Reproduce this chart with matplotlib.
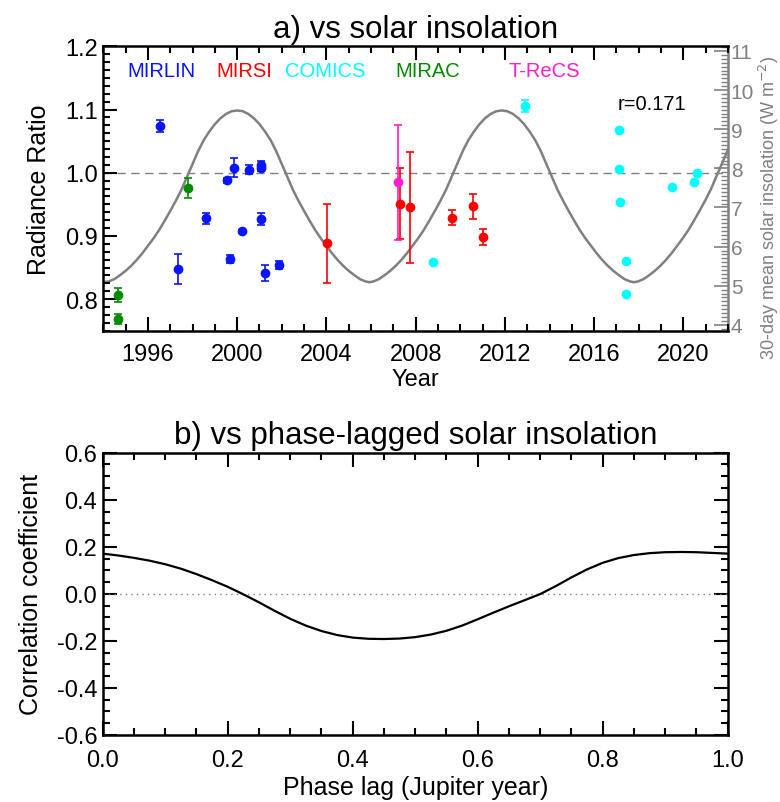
import numpy as np
import matplotlib
matplotlib.use("Agg")
import matplotlib.pyplot as plt
from matplotlib.ticker import MultipleLocator, FuncFormatter

plt.rcParams['font.family'] = ['Liberation Sans', 'DejaVu Sans']

# ---------------- data: panel a ----------------
mirlin_year = [1996.55, 1997.33, 1998.62, 1999.53, 1999.69, 1999.84, 2000.20, 2000.51, 2001.05, 2001.05, 2001.05, 2001.27, 2001.89]
mirlin_val  = [1.074, 0.848, 0.928, 0.988, 0.863, 1.008, 0.907, 1.005, 1.012, 1.007, 0.926, 0.841, 0.854]
mirlin_err  = [0.0095, 0.024, 0.0085, 0.004, 0.006, 0.015, 0.003, 0.007, 0.006, 0.005, 0.0095, 0.013, 0.0056]

mirsi_year = [2004.04, 2007.29, 2007.75, 2009.61, 2010.58, 2011.00]
mirsi_val  = [0.888, 0.951, 0.945, 0.929, 0.947, 0.898]
mirsi_err  = [0.063, 0.0565, 0.088, 0.012, 0.020, 0.013]

comics_year = [2008.76, 2012.89, 2017.10, 2017.10, 2017.16, 2017.42, 2017.42, 2019.47, 2020.48, 2020.63]
comics_val  = [0.859, 1.1056, 1.067, 1.006, 0.954, 0.861, 0.808, 0.978, 0.985, 1.000]
comics_err  = [0.0, 0.010, 0.0, 0.0, 0.0, 0.0, 0.0, 0.0, 0.0, 0.0]

mirac_year = [1994.67, 1994.67, 1997.78]
mirac_val  = [0.806, 0.769, 0.976]
mirac_err  = [0.011, 0.008, 0.016]

trecs_year = [2007.19]
trecs_val  = [0.985]
trecs_err  = [0.091]

ins_year = [1994.00, 1994.25, 1994.50, 1994.75, 1995.00, 1995.25, 1995.50, 1995.75, 1996.00, 1996.25,
            1996.50, 1996.75, 1997.00, 1997.25, 1997.50, 1997.75, 1998.00, 1998.25, 1998.50, 1998.75,
            1999.00, 1999.25, 1999.50, 1999.75, 2000.00, 2000.25, 2000.50, 2000.75, 2001.00, 2001.25,
            2001.50, 2001.75, 2002.00, 2002.25, 2002.50, 2002.75, 2003.00, 2003.25, 2003.50, 2003.75,
            2004.00, 2004.25, 2004.50, 2004.75, 2005.00, 2005.25, 2005.50, 2005.75, 2005.93,
            2006.11, 2006.36, 2006.61, 2006.86, 2007.11, 2007.36, 2007.61, 2007.86, 2008.11, 2008.36,
            2008.61, 2008.86, 2009.11, 2009.36, 2009.61, 2009.86, 2010.11, 2010.36, 2010.61, 2010.86,
            2011.11, 2011.36, 2011.61, 2011.86, 2012.11, 2012.36, 2012.61, 2012.86, 2013.11, 2013.36,
            2013.61, 2013.86, 2014.11, 2014.36, 2014.61, 2014.86, 2015.11, 2015.36, 2015.61, 2015.86,
            2016.11, 2016.36, 2016.61, 2016.86, 2017.11, 2017.36, 2017.61, 2017.79,
            2017.97, 2018.22, 2018.47, 2018.72, 2018.97, 2019.22, 2019.47, 2019.72, 2019.97, 2020.22,
            2020.47, 2020.72, 2020.97, 2021.22, 2021.47, 2021.72, 2021.97, 2022.22]
ins_val = [5.09, 5.11, 5.17, 5.27, 5.38, 5.51, 5.66, 5.83, 6.02, 6.21,
           6.42, 6.66, 6.91, 7.17, 7.45, 7.78, 8.11, 8.44, 8.72, 8.94,
           9.13, 9.28, 9.39, 9.46, 9.48, 9.46, 9.39, 9.28, 9.13, 8.94,
           8.72, 8.44, 8.11, 7.78, 7.45, 7.17, 6.91, 6.66, 6.42, 6.21,
           6.02, 5.83, 5.66, 5.51, 5.38, 5.27, 5.17, 5.11, 5.09,
           5.11, 5.17, 5.27, 5.38, 5.51, 5.66, 5.83, 6.02, 6.21, 6.42,
           6.66, 6.91, 7.17, 7.45, 7.78, 8.11, 8.44, 8.72, 8.94, 9.13,
           9.28, 9.39, 9.46, 9.48, 9.46, 9.39, 9.28, 9.13, 8.94, 8.72,
           8.44, 8.11, 7.78, 7.45, 7.17, 6.91, 6.66, 6.42, 6.21, 6.02,
           5.83, 5.66, 5.51, 5.38, 5.27, 5.17, 5.11, 5.09,
           5.11, 5.17, 5.27, 5.38, 5.51, 5.66, 5.83, 6.02, 6.21, 6.42,
           6.66, 6.91, 7.17, 7.45, 7.78, 8.11, 8.44, 8.72]

# ---------------- data: panel b ----------------
lag = [0.000, 0.025, 0.050, 0.075, 0.100, 0.125, 0.150, 0.175, 0.200, 0.225,
       0.250, 0.275, 0.300, 0.325, 0.350, 0.375, 0.400, 0.425, 0.450, 0.475,
       0.500, 0.525, 0.550, 0.575, 0.600, 0.625, 0.650, 0.675, 0.700, 0.725,
       0.750, 0.775, 0.800, 0.825, 0.850, 0.875, 0.900, 0.925, 0.950, 0.975, 1.000]
corr = [0.171, 0.163, 0.153, 0.141, 0.126, 0.107, 0.084, 0.058, 0.030, -0.002,
        -0.036, -0.072, -0.106, -0.135, -0.158, -0.175, -0.186, -0.191, -0.192, -0.190,
        -0.184, -0.173, -0.157, -0.135, -0.108, -0.080, -0.053, -0.027, -0.001, 0.033,
        0.070, 0.104, 0.132, 0.152, 0.165, 0.173, 0.177, 0.178, 0.177, 0.174, 0.171]

BLUE = '#0a14ff'
RED = '#ff0000'
CYAN = '#00ffff'
GREEN = '#008c00'
MAGENTA = '#ff1ecf'
GRAY = '#808080'

W, H = 780, 803
fig = plt.figure(figsize=(W/100, H/100), dpi=100)

def frac(l, t, r, b):
    return [l/W, 1 - b/H, (r-l)/W, (b-t)/H]

TICK_FS = 17
LAB_FS = 18
TITLE_FS = 22.5

# ---------------- panel a ----------------
ax = fig.add_axes(frac(103.3, 47.3, 728.0, 331.7))
ax.set_xlim(1994, 2022)
ax.set_ylim(0.75, 1.2)
ax.axhline(1.0, color=GRAY, lw=1.0, ls=(0, (6, 4)), zorder=1)

for yr, v, e, c in [(mirlin_year, mirlin_val, mirlin_err, BLUE),
                    (mirsi_year, mirsi_val, mirsi_err, RED),
                    (comics_year, comics_val, comics_err, CYAN),
                    (mirac_year, mirac_val, mirac_err, GREEN),
                    (trecs_year, trecs_val, trecs_err, MAGENTA)]:
    e = np.asarray(e)
    ax.errorbar(yr, v, yerr=np.where(e > 0, e, np.nan), fmt='o', color=c, ms=6,
                mec=c, ecolor=c, elinewidth=1.2, capsize=3.2, capthick=1.2, zorder=4)

ax.set_ylabel('Radiance Ratio', fontsize=LAB_FS, labelpad=10)
ax.set_xlabel('Year', fontsize=TICK_FS, labelpad=2)
ax.set_title('a) vs solar insolation', fontsize=TITLE_FS, pad=7)
ax.xaxis.set_major_locator(MultipleLocator(4))
ax.xaxis.set_minor_locator(MultipleLocator(1))
ax.yaxis.set_minor_locator(MultipleLocator(0.0125))
ax.set_yticks([0.8, 0.9, 1.0, 1.1, 1.2])
ax.set_yticklabels(['0.8', '0.9', '1.0', '1.1', '1.2'])
ax.tick_params(axis='both', which='major', direction='in', length=10, width=1.5, labelsize=TICK_FS)
ax.tick_params(axis='both', which='minor', direction='in', length=5, width=1.5)
ax.tick_params(axis='x', top=True, which='both', pad=9)
ax.tick_params(axis='y', right=False, which='both', pad=4)
for s in ['left', 'bottom', 'top']:
    ax.spines[s].set_linewidth(1.8)
ax.spines['right'].set_visible(False)

labels = [('MIRLIN', BLUE, 161.7), ('MIRSI', RED, 244), ('COMICS', CYAN, 325),
          ('MIRAC', GREEN, 428), ('T-ReCS', MAGENTA, 544)]
for txt, c, px in labels:
    ax.text((px - 103.3) / 624.7, 1 - (71.7 - 47.3) / 284.4, txt, color=c,
            transform=ax.transAxes, ha='center', va='center', fontsize=14.5)
ax.text((652 - 103.3) / 624.7, 1 - (104 - 47.3) / 284.4, 'r=0.171', color='black',
        transform=ax.transAxes, ha='center', va='center', fontsize=14.5)

ax2 = ax.twinx()
ax2.set_ylim(3.85, 11.12)
ax2.plot(ins_year, ins_val, color=GRAY, lw=1.8, zorder=2)
ax2.yaxis.set_major_locator(MultipleLocator(1))
ax2.yaxis.set_minor_locator(MultipleLocator(0.1))
ax2.tick_params(axis='y', which='major', direction='in', length=10, width=1.2,
                colors=GRAY, labelsize=15, pad=2)
ax2.tick_params(axis='y', which='minor', direction='in', length=5, width=1.0, colors=GRAY)
for s in ['left', 'bottom', 'top']:
    ax2.spines[s].set_visible(False)
ax2.spines['right'].set_color(GRAY)
ax2.spines['right'].set_linewidth(1.8)
fig.text(768.5 / W, 1 - 208 / H, '30-day mean solar insolation (W m$^{-2}$)', color=GRAY,
         fontsize=13, rotation=90, ha='center', va='center')
ax.set_zorder(ax2.get_zorder() + 1)
ax.patch.set_visible(False)

# ---------------- panel b ----------------
bx = fig.add_axes(frac(102.7, 453.7, 727.7, 736.0))
bx.set_xlim(0, 1)
bx.set_ylim(-0.6, 0.6)
bx.axhline(0.0, color=GRAY, lw=1.0, ls=(0, (1, 3)))
bx.plot(lag, corr, color='black', lw=1.6)
bx.xaxis.set_major_locator(MultipleLocator(0.2))
bx.xaxis.set_minor_locator(MultipleLocator(0.05))
bx.yaxis.set_major_locator(MultipleLocator(0.2))
bx.yaxis.set_minor_locator(MultipleLocator(0.05))
bx.tick_params(axis='both', which='major', direction='in', length=10, width=1.5,
               labelsize=TICK_FS, top=True, right=True)
bx.tick_params(axis='both', which='minor', direction='in', length=5, width=1.5,
               top=True, right=True)
bx.tick_params(axis='x', pad=10)
bx.tick_params(axis='y', pad=4)
bx.xaxis.set_major_formatter(FuncFormatter(lambda v, p: '%.1f' % (0.0 if abs(v) < 1e-9 else v)))
bx.yaxis.set_major_formatter(FuncFormatter(lambda v, p: '%.1f' % (0.0 if abs(v) < 1e-9 else v)))
for s in bx.spines.values():
    s.set_linewidth(1.8)
bx.set_xlabel('Phase lag (Jupiter year)', fontsize=LAB_FS, labelpad=3)
bx.set_ylabel('Correlation coefficient', fontsize=LAB_FS, labelpad=10)
bx.set_title('b) vs phase-lagged solar insolation', fontsize=TITLE_FS, pad=7)

fig.savefig('out.png', dpi=100)
